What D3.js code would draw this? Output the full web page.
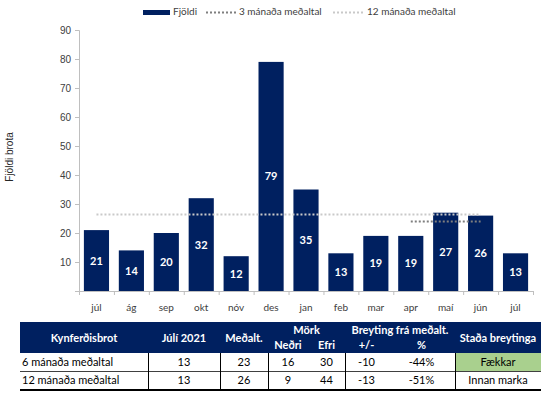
<!DOCTYPE html>
<html>
<head>
<meta charset="utf-8">
<script src="https://cdn.jsdelivr.net/npm/d3@7"></script>
<style>
  body { margin: 0; background: #fff; }
  svg { display: block; font-family: Lato, "Open Sans", sans-serif; }
</style>
</head>
<body>
<div id="chart"></div>
<script>
// monthly counts
var months = ["júl", "ág", "sep", "okt", "nóv", "des", "jan", "feb", "mar", "apr", "maí", "jún", "júl"];
var counts = [21, 14, 20, 32, 12, 79, 35, 13, 19, 19, 27, 26, 13];
var avg3 = [null, null, null, null, null, null, null, null, null, 24, 24, 24, null];
var avg12 = [26.4, 26.4, 26.4, 26.4, 26.4, 26.4, 26.4, 26.4, 26.4, 26.4, 26.4, 26.4, null];
var yTicks = [0, 10, 20, 30, 40, 50, 60, 70, 80, 90];

// table
var rowLabels = ["6 mánaða meðaltal", "12 mánaða meðaltal"];
var rowValues = [
    ["13", "23", "16", "30", "-10", "-44%", "Fækkar"],
    ["13", "26", "9", "44", "-13", "-51%", "Innan marka"]
];
var statusColors = ["#a9d08e", null];

var width = 552, height = 396;
var navy = "#002060",
    axisColor = "#bfbfbf",
    textColor = "#404040";

var svg = d3.select("#chart").append("svg")
    .attr("width", width)
    .attr("height", height);

var x = d3.scaleBand()
    .domain(d3.range(months.length))
    .range([79, 533])
    .paddingInner(0.28)
    .paddingOuter(0.14);

var y = d3.scaleLinear()
    .domain([0, 90])
    .range([291, 30]);

// y axis
var yAxis = svg.append("g")
    .attr("transform", "translate(79,0)")
    .call(d3.axisLeft(y).tickValues(yTicks).tickSize(4).tickPadding(4)
        .tickFormat(function (d) { return d === 0 ? "" : d; }));
yAxis.select(".domain").attr("stroke", axisColor);
yAxis.selectAll(".tick line").attr("stroke", axisColor);
yAxis.selectAll("text")
    .style("font-size", "10px")
    .attr("fill", textColor);

// x axis: ticks between categories
var step = x.step();
var xAxis = svg.append("g");
xAxis.append("line")
    .attr("x1", 79).attr("x2", 533)
    .attr("y1", y(0) + 0.5).attr("y2", y(0) + 0.5)
    .attr("stroke", axisColor);
xAxis.selectAll(".xt")
    .data(d3.range(months.length + 1))
    .enter().append("line")
    .attr("x1", function (i) { return 79 + i * step + 0.5; })
    .attr("x2", function (i) { return 79 + i * step + 0.5; })
    .attr("y1", y(0))
    .attr("y2", y(0) + 4)
    .attr("stroke", axisColor);
xAxis.selectAll(".xl")
    .data(months)
    .enter().append("text")
    .attr("x", function (d, i) { return x(i) + x.bandwidth() / 2; })
    .attr("y", 311)
    .attr("text-anchor", "middle")
    .style("font-size", "10px")
    .attr("fill", textColor)
    .text(function (d) { return d; });

// y title
svg.append("text")
    .attr("transform", "translate(13," + 157 + ") rotate(-90)")
    .attr("text-anchor", "middle")
    .style("font-family", "'Liberation Sans', Arial, sans-serif")
    .style("font-size", "10px")
    .attr("fill", "#262626")
    .text("Fjöldi brota");

// bars
svg.selectAll(".bar")
    .data(counts)
    .enter().append("rect")
    .attr("x", function (d, i) { return x(i); })
    .attr("y", function (d) { return y(d); })
    .attr("width", x.bandwidth())
    .attr("height", function (d) { return y(0) - y(d); })
    .attr("fill", navy);

svg.selectAll(".blabel")
    .data(counts)
    .enter().append("text")
    .attr("x", function (d, i) { return x(i) + x.bandwidth() / 2; })
    .attr("y", function (d) { return (y(d) + y(0)) / 2 + 4; })
    .attr("text-anchor", "middle")
    .style("font-size", "11px")
    .style("font-weight", "bold")
    .attr("fill", "#fff")
    .text(function (d) { return d; });

// average lines
var line = d3.line()
    .defined(function (d) { return d != null; })
    .x(function (d, i) { return x(i) + x.bandwidth() / 2; })
    .y(function (d) { return y(d); });

svg.append("path")
    .attr("d", line(avg12))
    .attr("fill", "none")
    .attr("stroke", "#c9c9c9")
    .attr("stroke-width", 2)
    .attr("stroke-dasharray", "2,2");

svg.append("path")
    .attr("d", line(avg3))
    .attr("fill", "none")
    .attr("stroke", "#7f7f7f")
    .attr("stroke-width", 2)
    .attr("stroke-dasharray", "2,2");

// legend
var legend = svg.append("g").style("font-size", "10px").attr("fill", textColor);
legend.append("rect").attr("x", 143).attr("y", 10).attr("width", 27).attr("height", 5).attr("fill", navy);
legend.append("text").attr("x", 173).attr("y", 15).text("Fjöldi");
legend.append("line").attr("x1", 206).attr("x2", 236).attr("y1", 12.5).attr("y2", 12.5)
    .attr("stroke", "#7f7f7f").attr("stroke-width", 2).attr("stroke-dasharray", "2,2");
legend.append("text").attr("x", 239).attr("y", 15).text("3 mánaða meðaltal");
legend.append("line").attr("x1", 333).attr("x2", 363).attr("y1", 12.5).attr("y2", 12.5)
    .attr("stroke", "#c9c9c9").attr("stroke-width", 2).attr("stroke-dasharray", "2,2");
legend.append("text").attr("x", 367).attr("y", 15).text("12 mánaða meðaltal");

// table
var colEdges = [20, 148, 220, 268, 308, 345, 388, 455, 541];
var headTop = 322, headBot = 353, rowH = 18;
var tbl = svg.append("g").style("font-size", "11px");

tbl.append("rect")
    .attr("x", colEdges[0]).attr("y", headTop)
    .attr("width", colEdges[8] - colEdges[0]).attr("height", headBot - headTop)
    .attr("fill", navy);

function mid(a, b) { return (colEdges[a] + colEdges[b]) / 2; }
var heads = [
    { t: "Kynferðisbrot", x: mid(0, 1), y: 342 },
    { t: "Júlí 2021", x: mid(1, 2), y: 342 },
    { t: "Meðalt.", x: mid(2, 3), y: 342 },
    { t: "Mörk", x: mid(3, 5), y: 334 },
    { t: "Neðri", x: mid(3, 4), y: 349 },
    { t: "Efri", x: mid(4, 5), y: 349 },
    { t: "Breyting frá meðalt.", x: mid(5, 7), y: 334 },
    { t: "+/-", x: mid(5, 6), y: 349 },
    { t: "%", x: mid(6, 7), y: 349 },
    { t: "Staða breytinga", x: mid(7, 8), y: 342 }
];
tbl.selectAll(".head")
    .data(heads)
    .enter().append("text")
    .attr("x", function (d) { return d.x; })
    .attr("y", function (d) { return d.y; })
    .attr("text-anchor", "middle")
    .style("font-weight", "bold")
    .attr("fill", "#fff")
    .text(function (d) { return d.t; });

rowLabels.forEach(function (lab, r) {
    var top = headBot + r * rowH;
    if (statusColors[r]) {
        tbl.append("rect")
            .attr("x", colEdges[7]).attr("y", top)
            .attr("width", colEdges[8] - colEdges[7]).attr("height", rowH)
            .attr("fill", statusColors[r]);
    }
    tbl.append("text")
        .attr("x", colEdges[0] + 2).attr("y", top + 13)
        .attr("fill", "#000")
        .text(lab);
    rowValues[r].forEach(function (v, c) {
        tbl.append("text")
            .attr("x", mid(c + 1, c + 2)).attr("y", top + 13)
            .attr("text-anchor", "middle")
            .attr("fill", "#000")
            .text(v);
    });
});

// table lines
tbl.append("line")
    .attr("x1", colEdges[0]).attr("x2", colEdges[8])
    .attr("y1", headBot + rowH + 0.5).attr("y2", headBot + rowH + 0.5)
    .attr("stroke", "#404040");
tbl.append("line")
    .attr("x1", colEdges[0]).attr("x2", colEdges[8])
    .attr("y1", headBot + 2 * rowH + 1).attr("y2", headBot + 2 * rowH + 1)
    .attr("stroke", "#000").attr("stroke-width", 2);
[1, 2, 3, 5, 7].forEach(function (c) {
    tbl.append("line")
        .attr("x1", colEdges[c] + 0.5).attr("x2", colEdges[c] + 0.5)
        .attr("y1", headBot).attr("y2", headBot + 2 * rowH)
        .attr("stroke", "#000");
});
</script>
</body>
</html>
